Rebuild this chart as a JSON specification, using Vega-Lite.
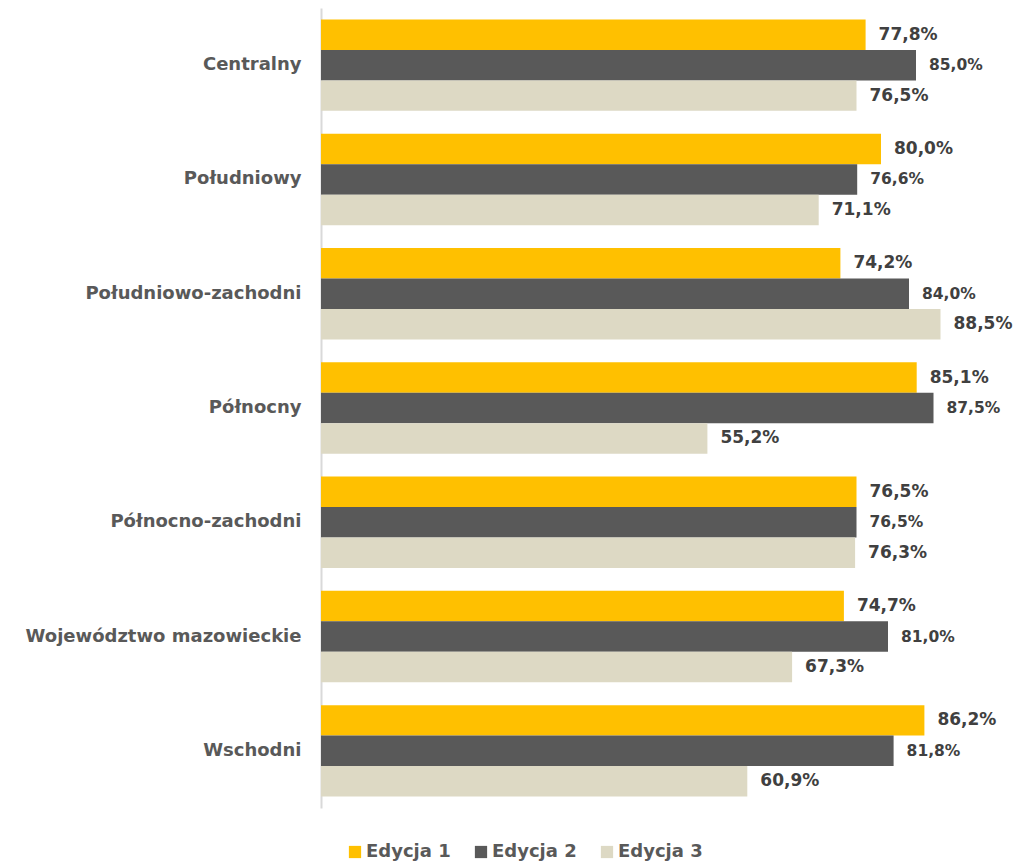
{
  "$schema": "https://vega.github.io/schema/vega-lite/v6.json",
  "width": 693,
  "height": 800,
  "autosize": "none",
  "padding": {"left": 321, "top": 8, "right": 2, "bottom": 55},
  "background": "white",
  "config": {
    "view": {"stroke": null},
    "font": "DejaVu Sans",
    "locale": {"number": {"decimal": ",", "thousands": " ", "grouping": [3], "currency": ["", " zł"]}}
  },
  "data": {
    "values": [
      {"region": "Centralny", "edition": "Edycja 1", "value": 0.778},
      {"region": "Centralny", "edition": "Edycja 2", "value": 0.850},
      {"region": "Centralny", "edition": "Edycja 3", "value": 0.765},
      {"region": "Południowy", "edition": "Edycja 1", "value": 0.800},
      {"region": "Południowy", "edition": "Edycja 2", "value": 0.766},
      {"region": "Południowy", "edition": "Edycja 3", "value": 0.711},
      {"region": "Południowo-zachodni", "edition": "Edycja 1", "value": 0.742},
      {"region": "Południowo-zachodni", "edition": "Edycja 2", "value": 0.840},
      {"region": "Południowo-zachodni", "edition": "Edycja 3", "value": 0.885},
      {"region": "Północny", "edition": "Edycja 1", "value": 0.851},
      {"region": "Północny", "edition": "Edycja 2", "value": 0.875},
      {"region": "Północny", "edition": "Edycja 3", "value": 0.552},
      {"region": "Północno-zachodni", "edition": "Edycja 1", "value": 0.765},
      {"region": "Północno-zachodni", "edition": "Edycja 2", "value": 0.765},
      {"region": "Północno-zachodni", "edition": "Edycja 3", "value": 0.763},
      {"region": "Województwo mazowieckie", "edition": "Edycja 1", "value": 0.747},
      {"region": "Województwo mazowieckie", "edition": "Edycja 2", "value": 0.810},
      {"region": "Województwo mazowieckie", "edition": "Edycja 3", "value": 0.673},
      {"region": "Wschodni", "edition": "Edycja 1", "value": 0.862},
      {"region": "Wschodni", "edition": "Edycja 2", "value": 0.818},
      {"region": "Wschodni", "edition": "Edycja 3", "value": 0.609}
    ]
  },
  "encoding": {
    "y": {
      "field": "region", "type": "nominal", "sort": null,
      "scale": {"paddingInner": 0.2, "paddingOuter": 0.1},
      "axis": {
        "title": null, "ticks": false, "domainColor": "#D9D9D9", "domainWidth": 2,
        "labelFontSize": 18, "labelFontWeight": "bold", "labelColor": "#595959",
        "labelPadding": 20, "labelFont": "DejaVu Sans", "labelLimit": 400
      }
    },
    "yOffset": {"field": "edition", "type": "nominal", "sort": ["Edycja 1", "Edycja 2", "Edycja 3"]},
    "x": {
      "field": "value", "type": "quantitative",
      "scale": {"domain": [0, 0.99], "nice": false},
      "axis": null
    }
  },
  "layer": [
    {
      "mark": {"type": "bar"},
      "encoding": {
        "color": {
          "field": "edition", "type": "nominal",
          "scale": {"domain": ["Edycja 1", "Edycja 2", "Edycja 3"], "range": ["#FFC000", "#595959", "#DDD9C4"]},
          "legend": {
            "title": null, "orient": "none", "direction": "horizontal",
            "legendX": 25, "legendY": 835,
            "symbolType": "square", "symbolSize": 150, "symbolStrokeWidth": 0,
            "labelFontSize": 18, "labelFontWeight": "bold", "labelColor": "#595959",
            "labelFont": "DejaVu Sans", "columnPadding": 21, "labelOffset": 2
          }
        }
      }
    },
    {
      "mark": {"type": "text", "align": "left", "baseline": "middle", "dx": 13, "fontWeight": "bold", "color": "#404040"},
      "encoding": {
        "text": {"field": "value", "type": "quantitative", "format": ".1%"},
        "size": {"condition": {"test": "datum.edition === 'Edycja 2'", "value": 15.5}, "value": 17}
      }
    }
  ]
}
